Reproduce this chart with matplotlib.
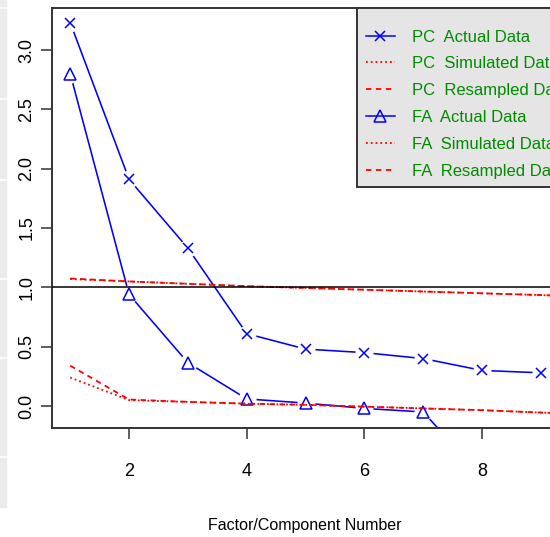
import matplotlib
matplotlib.use("Agg")
import matplotlib.pyplot as plt
from matplotlib.patches import Rectangle
from matplotlib.lines import Line2D

# eigen values
n_factors = [1, 2, 3, 4, 5, 6, 7, 8, 9, 10]
pc_actual = [3.23, 1.91, 1.33, 0.61, 0.48, 0.45, 0.40, 0.30, 0.28, 0.20]
pc_sim = [1.07, 1.05, 1.03, 1.01, 0.995, 0.98, 0.965, 0.95, 0.935, 0.92]
pc_resamp = [1.075, 1.05, 1.03, 1.01, 0.995, 0.98, 0.965, 0.95, 0.935, 0.92]
fa_actual = [2.80, 0.94, 0.365, 0.06, 0.025, -0.02, -0.05, -0.60, -0.65, -0.70]
fa_sim = [0.24, 0.05, 0.035, 0.02, 0.01, -0.005, -0.02, -0.035, -0.055, -0.07]
fa_resamp = [0.34, 0.055, 0.035, 0.02, 0.01, -0.005, -0.02, -0.035, -0.055, -0.07]

legend_labels = ["PC  Actual Data", "PC  Simulated Data", "PC  Resampled Data",
                 "FA  Actual Data", "FA  Simulated Data", "FA  Resampled Data"]

plt.rcParams["font.family"] = ["Liberation Sans", "DejaVu Sans"]

W, H = 550, 537
fig = plt.figure(figsize=(W / 100, H / 100), dpi=100)

# grey strip on the far left (page background)
for top, bot in [(0, 6), (9, 97), (100, 178), (181, 277), (280, 356), (359, 455), (458, 507)]:
    fig.patches.append(Rectangle((0, 1 - bot / H), 6 / W, (bot - top) / H,
                                 transform=fig.transFigure, color="#ebebeb", zorder=0))

ax = fig.add_axes([52 / W, 1 - 428 / H, (558 - 52) / W, 420 / H])
ax.set_xlim(0.69, 9.29)
ax.set_ylim(-0.185, 3.354)

blue = "#0000ff"
red = "#ff0000"

# actual data, R type="b": gaps around points
ax.plot(n_factors, pc_actual, color=blue, lw=1.15, zorder=2)
ax.plot(n_factors, pc_actual, ls="none", marker="o", ms=13, mfc="white", mec="none", zorder=3)
ax.plot(n_factors, pc_actual, ls="none", marker="x", ms=7, mew=1.1, color=blue, zorder=4)

ax.plot(n_factors, fa_actual, color=blue, lw=1.15, zorder=2)
ax.plot(n_factors, fa_actual, ls="none", marker="o", ms=13, mfc="white", mec="none", zorder=3)
ax.plot(n_factors, fa_actual, ls="none", marker="^", ms=8, mew=1.1, mfc="none", mec=blue, zorder=4)

ax.plot(n_factors, pc_sim, color=red, ls=":", lw=1.3, zorder=5)
ax.plot(n_factors, pc_resamp, color=red, ls=(0, (3, 2.5)), lw=1.3, zorder=5)
ax.plot(n_factors, fa_sim, color=red, ls=":", lw=1.3, zorder=5)
ax.plot(n_factors, fa_resamp, color=red, ls=(0, (3, 2.5)), lw=1.3, zorder=5)

ax.axhline(1, color="black", lw=1.1, zorder=5)

for side in ["left", "bottom", "top"]:
    ax.spines[side].set_linewidth(1.4)
    ax.spines[side].set_color("#333333")
ax.spines["right"].set_visible(False)

ax.set_xticks([2, 4, 6, 8])
ax.set_yticks([0.0, 0.5, 1.0, 1.5, 2.0, 2.5, 3.0])
ax.set_yticklabels(["0.0", "0.5", "1.0", "1.5", "2.0", "2.5", "3.0"])
ax.tick_params(axis="both", direction="out", length=8, width=1.1, colors="#333333",
               labelcolor="black", labelsize=13)
ax.tick_params(axis="x", pad=17)
ax.tick_params(axis="y", pad=4, labelrotation=90)
for lab in ax.get_yticklabels():
    lab.set_va("center")

ax.set_xlabel("Factor/Component Number", fontsize=11.5)
ax.xaxis.set_label_coords((305 - 52) / (558 - 52), -(518 - 428) / 420)

handles = [
    Line2D([], [], color=blue, lw=1.1, marker="x", ms=7, mew=1.1),
    Line2D([], [], color=red, ls=":", lw=1.3),
    Line2D([], [], color=red, ls=(0, (3, 2.5)), lw=1.3),
    Line2D([], [], color=blue, lw=1.1, marker="^", ms=8, mfc="none", mew=1.1),
    Line2D([], [], color=red, ls=":", lw=1.3),
    Line2D([], [], color=red, ls=(0, (3, 2.5)), lw=1.3),
]
leg = fig.legend(handles, legend_labels, loc="upper left",
                 bbox_to_anchor=(357 / W, 1 - 8 / H), bbox_transform=fig.transFigure,
                 prop={"size": 12}, labelcolor="#008b00",
                 title=" ", title_fontsize=1,
                 fancybox=False, framealpha=1, borderaxespad=0,
                 handlelength=1.75, handletextpad=1.0, labelspacing=0.71, borderpad=0.52)
leg.get_frame().set_facecolor("#e5e5e5")
leg.get_frame().set_edgecolor("#333333")
leg.get_frame().set_linewidth(1.4)

fig.savefig("out.png", dpi=100)
